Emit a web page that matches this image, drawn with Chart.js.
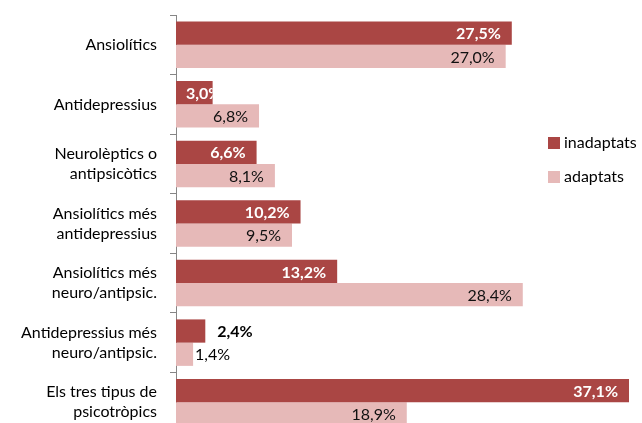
<!DOCTYPE html>
<html>
<head>
<meta charset="utf-8">
<script src="https://cdn.jsdelivr.net/npm/chart.js@4.4.0/dist/chart.umd.min.js"></script>
<style>
  html, body { margin: 0; padding: 0; background: #fff; overflow: hidden; width: 642px; height: 423px; }
  #wrap { position: relative; width: 642px; height: 432px; }
  .legend { position: absolute; left: 548px; font: 16px Lato, sans-serif; color: #000; line-height: 20px; }
  .legend span { display: inline-block; width: 12px; height: 12px; margin-right: 4px; vertical-align: -1px; }
</style>
</head>
<body>
<div id="wrap">
  <canvas id="chart" width="642" height="432"></canvas>
  <div class="legend" style="top:132px"><span style="background:#aa4644"></span>inadaptats</div>
  <div class="legend" style="top:166px"><span style="background:#e6b9b8"></span>adaptats</div>
</div>
<script>
// Categories (multi-line labels)
const categories = [
    ['Ansiolítics'],
    ['Antidepressius'],
    ['Neurolèptics o', 'antipsicòtics'],
    ['Ansiolítics més', 'antidepressius'],
    ['Ansiolítics més', 'neuro/antipsic.'],
    ['Antidepressius més', 'neuro/antipsic.'],
    ['Els tres tipus de', 'psicotròpics']
];
const inadaptats = [27.5, 3.0, 6.6, 10.2, 13.2, 2.4, 37.1];
const adaptats = [27.0, 6.8, 8.1, 9.5, 28.4, 1.4, 18.9];

const darkRed = '#aa4644';
const lightRed = '#e6b9b8';

function fmt(v) {
    return v.toFixed(1).replace('.', ',') + '%';
}

// Etiquetes de dades a la punta de cada barra
const valueLabels = {
    id: 'valueLabels',
    afterDatasetsDraw(chart) {
        const ctx = chart.ctx;
        chart.data.datasets.forEach(function (ds, di) {
            const meta = chart.getDatasetMeta(di);
            const bold = di === 0;
            ctx.save();
            ctx.font = (bold ? 'bold ' : '') + '16px Lato, sans-serif';
            ctx.textBaseline = 'middle';
            meta.data.forEach(function (bar, i) {
                const txt = fmt(ds.data[i]);
                const w = ctx.measureText(txt).width;
                const barW = bar.x - bar.base;
                if (barW < 32) {
                    ctx.fillStyle = '#000';
                    ctx.textAlign = 'left';
                    ctx.fillText(txt, bar.x + (bold ? 12 : 2), bar.y + 1);
                } else if (w + 14 > barW) {
                    ctx.save();
                    ctx.beginPath();
                    ctx.rect(bar.base, bar.y - bar.height / 2, barW, bar.height);
                    ctx.clip();
                    ctx.fillStyle = bold ? '#fff' : '#000';
                    ctx.textAlign = 'left';
                    ctx.fillText(txt, bar.base + 10, bar.y + 1);
                    ctx.restore();
                } else {
                    ctx.fillStyle = bold ? '#fff' : '#111';
                    ctx.textAlign = 'right';
                    ctx.fillText(txt, bar.x - 11, bar.y + 1);
                }
            });
            ctx.restore();
        });
    }
};

const ctx = document.getElementById('chart').getContext('2d');
const chart = new Chart(ctx, {
    type: 'bar',
    data: {
        labels: categories,
        datasets: [{
            label: 'inadaptats',
            data: inadaptats,
            backgroundColor: darkRed,
            categoryPercentage: 0.78,
            barPercentage: 1
        }, {
            label: 'adaptats',
            data: adaptats,
            backgroundColor: lightRed,
            categoryPercentage: 0.78,
            barPercentage: 1
        }]
    },
    options: {
        indexAxis: 'y',
        responsive: false,
        animation: false,
        layout: { padding: { top: 15, right: 2, bottom: 0, left: 0 } },
        plugins: {
            legend: { display: false },
            tooltip: { enabled: false }
        },
        scales: {
            x: {
                display: false,
                min: 0,
                max: 38
            },
            y: {
                afterFit: function (scale) {
                    scale.width = 176;
                    scale.paddingTop = 0;
                    scale.paddingBottom = 0;
                },
                border: { color: '#868686', width: 1 },
                grid: {
                    offset: true,
                    drawOnChartArea: false,
                    tickLength: 6,
                    color: '#868686'
                },
                ticks: {
                    color: '#000',
                    padding: 13,
                    font: { family: 'Lato, sans-serif', size: 16, lineHeight: 1.25 }
                }
            }
        }
    },
    plugins: [valueLabels]
});
</script>
</body>
</html>
